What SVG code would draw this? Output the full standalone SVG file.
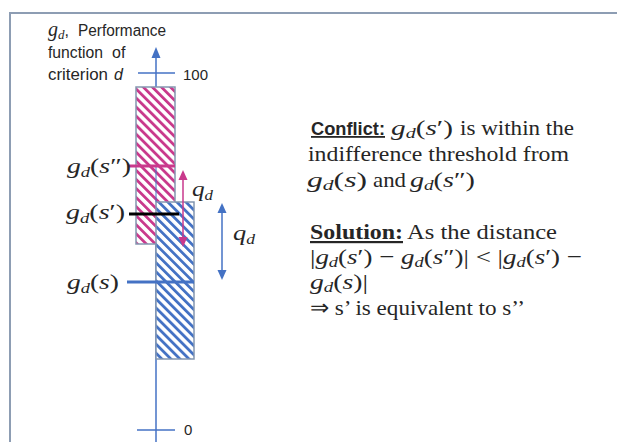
<svg xmlns="http://www.w3.org/2000/svg" width="617" height="442" viewBox="0 0 617 442">
<style>
.sans{font-family:"Liberation Sans",Arial,sans-serif;fill:#262626}
.serif{font-family:"Liberation Serif","Times New Roman",serif;fill:#262626}
.i{font-style:italic}
.ax{stroke:#4472c4;fill:none}
.pk{stroke:#c9398c;fill:none}
.box{stroke:#8497b0;stroke-width:1.5}
</style>
<defs>
<pattern id="hp" width="6.4" height="6.4" patternUnits="userSpaceOnUse" patternTransform="rotate(-45)">
<rect width="6.4" height="6.4" fill="#fff"/>
<rect width="2.8" height="6.4" fill="#c9398c"/>
</pattern>
<pattern id="hb" width="6.4" height="6.4" patternUnits="userSpaceOnUse" patternTransform="rotate(-45)">
<rect width="6.4" height="6.4" fill="#fff"/>
<rect width="2.8" height="6.4" fill="#4472c4"/>
</pattern>
</defs>
<rect width="617" height="442" fill="#fff"/>
<rect x="10" y="13" width="640" height="460" fill="none" stroke="#8d9db3" stroke-width="2"/>

<g id="axis">
<line class="ax" x1="156" y1="55" x2="156" y2="442" stroke-width="1.5"/>
<polygon points="156,47 151.5,58 160.5,58" fill="#4472c4"/>
<line class="ax" x1="138" y1="73" x2="175" y2="73" stroke-width="1.5"/>
<line class="ax" x1="137" y1="430" x2="175" y2="430" stroke-width="1.5"/>
<text class="sans" x="183" y="80" font-size="15">100</text>
<text class="sans" x="184" y="435" font-size="15">0</text>
</g>

<g id="axis-title" class="sans" font-size="16">
<text x="48" y="36"><tspan class="serif i" font-size="20">g</tspan><tspan class="serif i" font-size="13" dy="3">d</tspan><tspan dy="-3">,</tspan></text>
<text x="78" y="36" textLength="88" lengthAdjust="spacingAndGlyphs">Performance</text>
<text x="48" y="58" textLength="55" lengthAdjust="spacingAndGlyphs">function</text>
<text x="112" y="58">of</text>
<text x="48" y="80" textLength="60" lengthAdjust="spacingAndGlyphs">criterion</text>
<text x="114" y="80" class="i">d</text>
</g>

<g id="box-s2">
<rect class="box" x="136" y="87" width="39" height="157" fill="url(#hp)"/>
</g>
<g id="box-s">
<rect class="box" x="156" y="202" width="38" height="157" fill="url(#hb)"/>
</g>

<g id="connectors">
<line class="ax" x1="156" y1="166" x2="156" y2="202" stroke-width="1"/>
<line class="pk" x1="129" y1="166" x2="175" y2="166" stroke-width="3"/>
<line x1="129" y1="214" x2="179" y2="214" stroke="#000" stroke-width="3"/>
<line class="ax" x1="127" y1="282" x2="194" y2="282" stroke-width="3"/>
<line class="pk" x1="183" y1="178" x2="183" y2="239" stroke-width="1.5"/>
<polygon points="183,170 178.5,180 187.5,180" fill="#c9398c"/>
<polygon points="183,247 178.5,237 187.5,237" fill="#c9398c"/>
<line class="ax" x1="222" y1="211" x2="222" y2="272" stroke-width="1.5"/>
<polygon points="222,203 217.5,213 226.5,213" fill="#4472c4"/>
<polygon points="222,280 217.5,270 226.5,270" fill="#4472c4"/>
</g>

<g id="labels" class="serif" font-size="21">
<text x="67" y="173" textLength="64" lengthAdjust="spacingAndGlyphs"><tspan class="i">g</tspan><tspan class="i" font-size="14" dy="4">d</tspan><tspan dy="-4">(</tspan><tspan class="i">s</tspan>″)</text>
<text x="66" y="219" textLength="59" lengthAdjust="spacingAndGlyphs"><tspan class="i">g</tspan><tspan class="i" font-size="14" dy="4">d</tspan><tspan dy="-4">(</tspan><tspan class="i">s</tspan>′)</text>
<text x="67" y="289" textLength="52" lengthAdjust="spacingAndGlyphs"><tspan class="i">g</tspan><tspan class="i" font-size="14" dy="4">d</tspan><tspan dy="-4">(</tspan><tspan class="i">s</tspan>)</text>
<text x="192" y="196" textLength="21" lengthAdjust="spacingAndGlyphs"><tspan class="i">q</tspan><tspan class="i" font-size="14" dy="4">d</tspan></text>
<text x="233" y="240" textLength="22" lengthAdjust="spacingAndGlyphs"><tspan class="i">q</tspan><tspan class="i" font-size="14" dy="4">d</tspan></text>
</g>

<g id="explanation" class="serif" font-size="22">
<text class="sans" x="311" y="135" font-size="18" font-weight="bold" text-decoration="underline" textLength="74" lengthAdjust="spacingAndGlyphs">Conflict:</text>
<text x="391" y="135" textLength="62" lengthAdjust="spacingAndGlyphs"><tspan class="i">g</tspan><tspan class="i" font-size="15" dy="3">d</tspan><tspan dy="-3">(</tspan><tspan class="i">s</tspan>′)</text>
<text x="460" y="135" textLength="114" lengthAdjust="spacingAndGlyphs">is within the</text>
<text x="308" y="161" textLength="261" lengthAdjust="spacingAndGlyphs">indifference threshold from</text>
<text x="307" y="187" textLength="60" lengthAdjust="spacingAndGlyphs"><tspan class="i">g</tspan><tspan class="i" font-size="15" dy="3">d</tspan><tspan dy="-3">(</tspan><tspan class="i">s</tspan>)</text>
<text x="373" y="187" textLength="33" lengthAdjust="spacingAndGlyphs">and</text>
<text x="410" y="187" textLength="65" lengthAdjust="spacingAndGlyphs"><tspan class="i">g</tspan><tspan class="i" font-size="15" dy="3">d</tspan><tspan dy="-3">(</tspan><tspan class="i">s</tspan>″)</text>
<text x="310" y="239" font-weight="bold" text-decoration="underline" textLength="93" lengthAdjust="spacingAndGlyphs">Solution:</text>
<text x="407" y="239" textLength="150" lengthAdjust="spacingAndGlyphs">As the distance</text>
<text x="310" y="264" textLength="272" lengthAdjust="spacingAndGlyphs">|<tspan class="i">g</tspan><tspan class="i" font-size="15" dy="3">d</tspan><tspan dy="-3">(</tspan><tspan class="i">s</tspan>′) − <tspan class="i">g</tspan><tspan class="i" font-size="15" dy="3">d</tspan><tspan dy="-3">(</tspan><tspan class="i">s</tspan>″)| &lt; |<tspan class="i">g</tspan><tspan class="i" font-size="15" dy="3">d</tspan><tspan dy="-3">(</tspan><tspan class="i">s</tspan>′) −</text>
<text x="310" y="289" textLength="58" lengthAdjust="spacingAndGlyphs"><tspan class="i">g</tspan><tspan class="i" font-size="15" dy="3">d</tspan><tspan dy="-3">(</tspan><tspan class="i">s</tspan>)|</text>
<text x="310" y="315" textLength="215" lengthAdjust="spacingAndGlyphs">⇒ s’ is equivalent to s’’</text>
</g>
</svg>
